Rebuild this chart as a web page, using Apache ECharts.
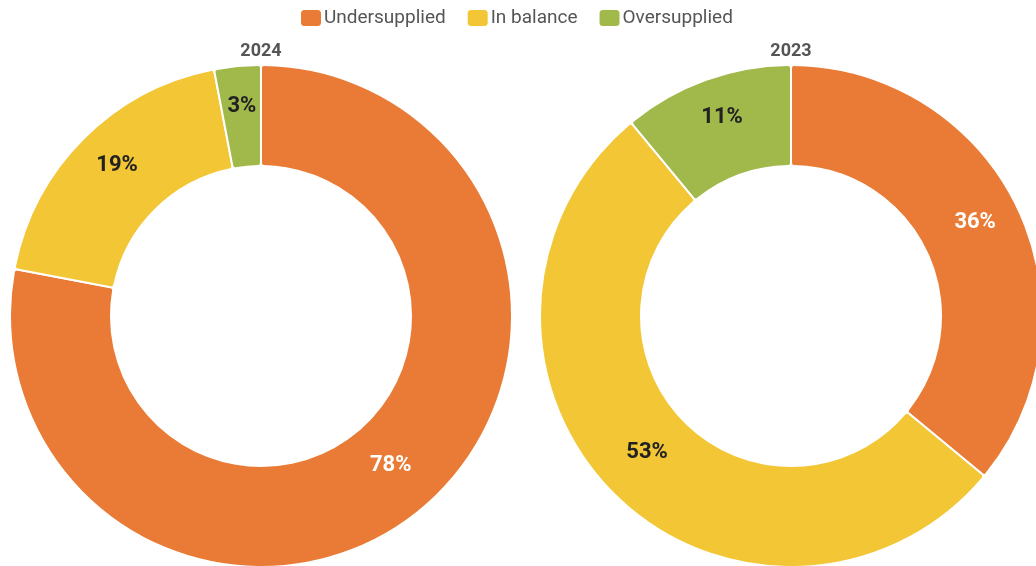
<!DOCTYPE html>
<html>
<head>
<meta charset="utf-8">
<script src="https://cdn.jsdelivr.net/npm/echarts@6/dist/echarts.min.js"></script>
<style>
  html, body { margin: 0; padding: 0; background: #fff; }
  #chart { width: 1036px; height: 566px; }
</style>
</head>
<body>
<div id="chart"></div>
<script>
const categories = ['Undersupplied', 'In balance', 'Oversupplied'];
const years = ['2024', '2023'];
const values2024 = [78, 19, 3];
const values2023 = [36, 53, 11];

const colors = ['#E97B36', '#F2C634', '#A1B84A'];
const labelColors = ['#ffffff', '#222222', '#222222'];

const chart = echarts.init(document.getElementById('chart'));

function buildSeries(name, values, centerX) {
  return {
    name: name,
    type: 'pie',
    center: [centerX, 316],
    radius: [150, 251],
    startAngle: 90,
    clockwise: true,
    avoidLabelOverlap: false,
    itemStyle: {
      borderColor: '#ffffff',
      borderWidth: 2,
      borderRadius: 3
    },
    label: {
      position: 'inside',
      formatter: '{c}%',
      fontFamily: 'Roboto',
      fontWeight: 'bold',
      fontSize: 22
    },
    // labels sit a little above the middle of the ring
    labelLayout: { dy: -7 },
    labelLine: { show: false },
    emphasis: { scale: false },
    data: categories.map((c, i) => ({
      name: c,
      value: values[i],
      itemStyle: { color: colors[i] },
      label: { color: labelColors[i] }
    }))
  };
}

const titleStyle = { fontFamily: 'Roboto', fontWeight: 'bold', fontSize: 18, color: '#555555' };

chart.setOption({
  animation: false,
  title: [
    { text: years[0], left: 261, top: 42, textAlign: 'center', padding: 0, textStyle: titleStyle },
    { text: years[1], left: 791, top: 42, textAlign: 'center', padding: 0, textStyle: titleStyle }
  ],
  legend: {
    data: categories,
    top: 3,
    left: 294,
    itemWidth: 22,
    itemHeight: 18,
    itemGap: 20,
    icon: 'roundRect',
    textStyle: { fontFamily: 'Roboto', fontSize: 19, color: '#555555', padding: [0, 0, 0, -3] }
  },
  series: [
    buildSeries(years[0], values2024, 261),
    buildSeries(years[1], values2023, 791)
  ]
});
</script>
</body>
</html>
